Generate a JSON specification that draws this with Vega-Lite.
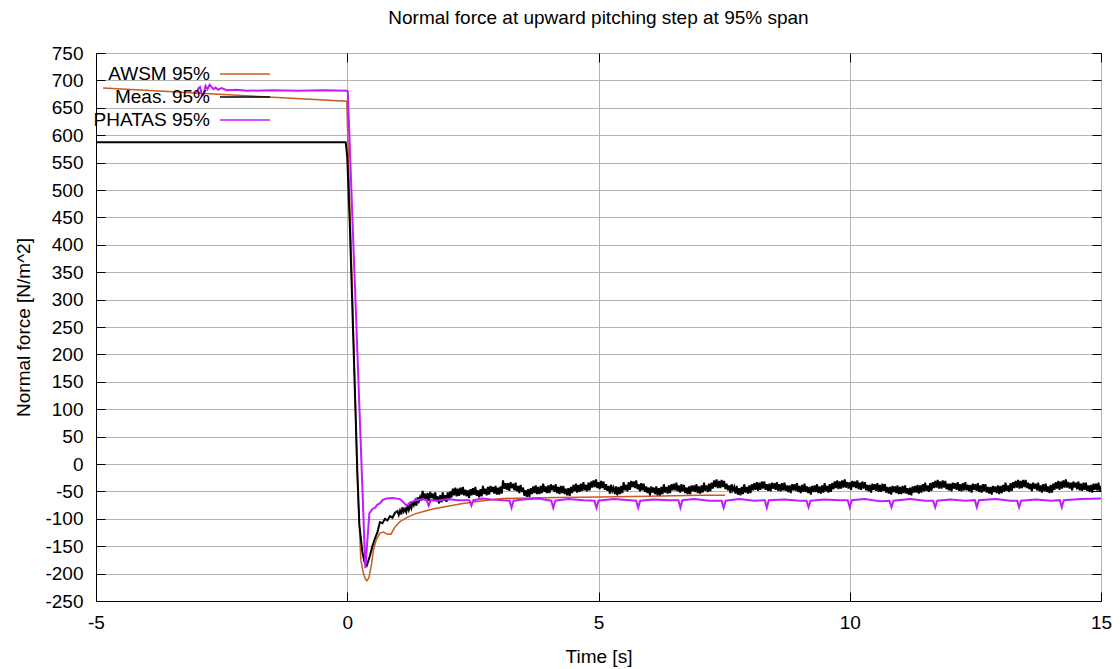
{
  "$schema": "https://vega.github.io/schema/vega-lite/v6.json",
  "width": 1005,
  "height": 548,
  "autosize": {"type": "none"},
  "padding": {"left": 96, "top": 53, "right": 19, "bottom": 68},
  "background": "white",
  "config": {
    "font": "Liberation Sans",
    "view": {"stroke": "black", "strokeWidth": 1},
    "axis": {
      "gridColor": "#b4b4b4", "gridWidth": 1, "gridOpacity": 1,
      "domainColor": "black", "tickColor": "black", "tickSize": -9, "tickWidth": 1,
      "labelFontSize": 19, "labelColor": "black", "labelFont": "Liberation Sans",
      "titleFontSize": 19, "titleFontWeight": "normal", "titleColor": "black", "titleFont": "Liberation Sans"
    },
    "legend": {
      "orient": "none", "legendX": 138, "legendY": 10, "padding": 0,
      "symbolType": "M-2.5,0H2.5", "symbolSize": 400, "symbolStrokeWidth": 1.5,
      "labelAlign": "right", "labelOffset": -46, "rowPadding": 2,
      "labelFontSize": 19, "labelColor": "black", "labelFont": "Liberation Sans", "labelLimit": 0
    }
  },
  "title": {"text": "Normal force at upward pitching step at 95% span", "fontSize": 19, "fontWeight": "normal", "color": "black", "anchor": "middle", "offset": 16, "font": "Liberation Sans"},
  "datasets": {
    "awsm": [
      {"t": -4.86, "v": 686}, {"t": -0.01, "v": 662}, {"t": 0.1, "v": 320}, {"t": 0.2, "v": -25},
      {"t": 0.27, "v": -175}, {"t": 0.32, "v": -199}, {"t": 0.36, "v": -210}, {"t": 0.39, "v": -213},
      {"t": 0.43, "v": -208}, {"t": 0.48, "v": -185}, {"t": 0.52, "v": -157}, {"t": 0.58, "v": -138},
      {"t": 0.65, "v": -126}, {"t": 0.72, "v": -124}, {"t": 0.8, "v": -128}, {"t": 0.87, "v": -128},
      {"t": 0.95, "v": -115}, {"t": 1.05, "v": -105}, {"t": 1.2, "v": -97}, {"t": 1.35, "v": -91},
      {"t": 1.5, "v": -87}, {"t": 1.7, "v": -82}, {"t": 2.0, "v": -77}, {"t": 2.3, "v": -72},
      {"t": 2.7, "v": -67}, {"t": 3.1, "v": -63}, {"t": 3.6, "v": -62}, {"t": 4.2, "v": -61},
      {"t": 5.0, "v": -60}, {"t": 6.0, "v": -59}, {"t": 7.0, "v": -57}, {"t": 7.52, "v": -57}
    ],
    "meas": [
      {"t":-5,"v":587},{"t":-0.03,"v":587},{"t":0.0,"v":560},{"t":0.05,"v":440},
      {"t":0.1,"v":290},{"t":0.15,"v":140},{"t":0.2,"v":-12},{"t":0.24,"v":-110},
      {"t":0.3,"v":-160},{"t":0.34,"v":-178},{"t":0.39,"v":-185},{"t":0.45,"v":-168},
      {"t":0.5,"v":-150},{"t":0.55,"v":-136},{"t":0.6,"v":-125},{"t":0.65,"v":-106},
      {"t":0.7,"v":-108},{"t":0.75,"v":-100},{"t":0.8,"v":-103},{"t":0.85,"v":-95},
      {"t":0.9,"v":-98},{"t":0.95,"v":-89},
      {"t":1.0,"v":-86},{"t":1.025,"v":-93},{"t":1.05,"v":-85},{"t":1.075,"v":-92},
      {"t":1.1,"v":-79},{"t":1.125,"v":-87},{"t":1.15,"v":-82},{"t":1.175,"v":-88},
      {"t":1.2,"v":-76},{"t":1.225,"v":-84},{"t":1.25,"v":-75},{"t":1.275,"v":-81},
      {"t":1.3,"v":-68},{"t":1.325,"v":-75},{"t":1.35,"v":-67},{"t":1.375,"v":-76},
      {"t":1.4,"v":-61},{"t":1.425,"v":-68},{"t":1.45,"v":-60},{"t":1.475,"v":-67},
      {"t":1.5,"v":-49},{"t":1.525,"v":-64},{"t":1.55,"v":-54},{"t":1.575,"v":-66},
      {"t":1.6,"v":-53},{"t":1.625,"v":-67},{"t":1.65,"v":-51},{"t":1.675,"v":-62},
      {"t":1.7,"v":-54},{"t":1.725,"v":-66},{"t":1.75,"v":-52},{"t":1.775,"v":-68},
      {"t":1.8,"v":-59},{"t":1.825,"v":-72},{"t":1.85,"v":-57},{"t":1.875,"v":-70},
      {"t":1.9,"v":-52},{"t":1.925,"v":-67},{"t":1.95,"v":-57},{"t":1.975,"v":-69},
      {"t":2.0,"v":-52},{"t":2.025,"v":-66},{"t":2.05,"v":-50},{"t":2.075,"v":-61},
      {"t":2.1,"v":-45},{"t":2.125,"v":-57},{"t":2.15,"v":-43},{"t":2.175,"v":-59},
      {"t":2.2,"v":-45},{"t":2.225,"v":-58},{"t":2.25,"v":-43},{"t":2.275,"v":-56},
      {"t":2.3,"v":-42},{"t":2.325,"v":-57},{"t":2.35,"v":-47},{"t":2.375,"v":-59},
      {"t":2.4,"v":-48},{"t":2.425,"v":-62},{"t":2.45,"v":-46},{"t":2.475,"v":-57},
      {"t":2.5,"v":-44},{"t":2.525,"v":-56},{"t":2.55,"v":-42},{"t":2.575,"v":-58},
      {"t":2.6,"v":-48},{"t":2.625,"v":-61},{"t":2.65,"v":-46},{"t":2.675,"v":-59},
      {"t":2.7,"v":-40},{"t":2.725,"v":-55},{"t":2.75,"v":-45},{"t":2.775,"v":-57},
      {"t":2.8,"v":-42},{"t":2.825,"v":-56},{"t":2.85,"v":-40},{"t":2.875,"v":-51},
      {"t":2.9,"v":-42},{"t":2.925,"v":-54},{"t":2.95,"v":-40},{"t":2.975,"v":-56},
      {"t":3.0,"v":-43},{"t":3.025,"v":-56},{"t":3.05,"v":-41},{"t":3.075,"v":-54},
      {"t":3.1,"v":-30},{"t":3.125,"v":-45},{"t":3.15,"v":-35},{"t":3.175,"v":-47},
      {"t":3.2,"v":-35},{"t":3.225,"v":-49},{"t":3.25,"v":-33},{"t":3.275,"v":-44},
      {"t":3.3,"v":-36},{"t":3.325,"v":-48},{"t":3.35,"v":-34},{"t":3.375,"v":-50},
      {"t":3.4,"v":-40},{"t":3.425,"v":-53},{"t":3.45,"v":-38},{"t":3.475,"v":-51},
      {"t":3.5,"v":-43},{"t":3.525,"v":-58},{"t":3.55,"v":-48},{"t":3.575,"v":-60},
      {"t":3.6,"v":-46},{"t":3.625,"v":-60},{"t":3.65,"v":-44},{"t":3.675,"v":-55},
      {"t":3.7,"v":-41},{"t":3.725,"v":-53},{"t":3.75,"v":-39},{"t":3.775,"v":-55},
      {"t":3.8,"v":-42},{"t":3.825,"v":-55},{"t":3.85,"v":-40},{"t":3.875,"v":-53},
      {"t":3.9,"v":-36},{"t":3.925,"v":-51},{"t":3.95,"v":-41},{"t":3.975,"v":-53},
      {"t":4.0,"v":-39},{"t":4.025,"v":-53},{"t":4.05,"v":-37},{"t":4.075,"v":-48},
      {"t":4.1,"v":-39},{"t":4.125,"v":-51},{"t":4.15,"v":-37},{"t":4.175,"v":-53},
      {"t":4.2,"v":-42},{"t":4.225,"v":-55},{"t":4.25,"v":-40},{"t":4.275,"v":-53},
      {"t":4.3,"v":-40},{"t":4.325,"v":-55},{"t":4.35,"v":-45},{"t":4.375,"v":-57},
      {"t":4.4,"v":-44},{"t":4.425,"v":-58},{"t":4.45,"v":-42},{"t":4.475,"v":-53},
      {"t":4.5,"v":-38},{"t":4.525,"v":-50},{"t":4.55,"v":-36},{"t":4.575,"v":-52},
      {"t":4.6,"v":-38},{"t":4.625,"v":-51},{"t":4.65,"v":-36},{"t":4.675,"v":-49},
      {"t":4.7,"v":-33},{"t":4.725,"v":-48},{"t":4.75,"v":-38},{"t":4.775,"v":-50},
      {"t":4.8,"v":-34},{"t":4.825,"v":-48},{"t":4.85,"v":-32},{"t":4.875,"v":-43},
      {"t":4.9,"v":-30},{"t":4.925,"v":-42},{"t":4.95,"v":-28},{"t":4.975,"v":-44},
      {"t":5.0,"v":-33},{"t":5.025,"v":-46},{"t":5.05,"v":-31},{"t":5.075,"v":-44},
      {"t":5.1,"v":-32},{"t":5.125,"v":-47},{"t":5.15,"v":-37},{"t":5.175,"v":-49},
      {"t":5.2,"v":-40},{"t":5.225,"v":-54},{"t":5.25,"v":-38},{"t":5.275,"v":-49},
      {"t":5.3,"v":-43},{"t":5.325,"v":-55},{"t":5.35,"v":-41},{"t":5.375,"v":-57},
      {"t":5.4,"v":-42},{"t":5.425,"v":-55},{"t":5.45,"v":-40},{"t":5.475,"v":-53},
      {"t":5.5,"v":-33},{"t":5.525,"v":-48},{"t":5.55,"v":-38},{"t":5.575,"v":-50},
      {"t":5.6,"v":-33},{"t":5.625,"v":-47},{"t":5.65,"v":-31},{"t":5.675,"v":-42},
      {"t":5.7,"v":-32},{"t":5.725,"v":-44},{"t":5.75,"v":-30},{"t":5.775,"v":-46},
      {"t":5.8,"v":-37},{"t":5.825,"v":-50},{"t":5.85,"v":-35},{"t":5.875,"v":-48},
      {"t":5.9,"v":-36},{"t":5.925,"v":-51},{"t":5.95,"v":-41},{"t":5.975,"v":-53},
      {"t":6.0,"v":-43},{"t":6.025,"v":-57},{"t":6.05,"v":-41},{"t":6.075,"v":-52},
      {"t":6.1,"v":-43},{"t":6.125,"v":-55},{"t":6.15,"v":-41},{"t":6.175,"v":-57},
      {"t":6.2,"v":-44},{"t":6.225,"v":-57},{"t":6.25,"v":-42},{"t":6.275,"v":-55},
      {"t":6.3,"v":-37},{"t":6.325,"v":-52},{"t":6.35,"v":-42},{"t":6.375,"v":-54},
      {"t":6.4,"v":-39},{"t":6.425,"v":-53},{"t":6.45,"v":-37},{"t":6.475,"v":-48},
      {"t":6.5,"v":-36},{"t":6.525,"v":-48},{"t":6.55,"v":-34},{"t":6.575,"v":-50},
      {"t":6.6,"v":-39},{"t":6.625,"v":-52},{"t":6.65,"v":-37},{"t":6.675,"v":-50},
      {"t":6.7,"v":-38},{"t":6.725,"v":-53},{"t":6.75,"v":-43},{"t":6.775,"v":-55},
      {"t":6.8,"v":-41},{"t":6.825,"v":-55},{"t":6.85,"v":-39},{"t":6.875,"v":-50},
      {"t":6.9,"v":-39},{"t":6.925,"v":-51},{"t":6.95,"v":-37},{"t":6.975,"v":-53},
      {"t":7.0,"v":-41},{"t":7.025,"v":-54},{"t":7.05,"v":-39},{"t":7.075,"v":-52},
      {"t":7.1,"v":-34},{"t":7.125,"v":-49},{"t":7.15,"v":-39},{"t":7.175,"v":-51},
      {"t":7.2,"v":-36},{"t":7.225,"v":-50},{"t":7.25,"v":-34},{"t":7.275,"v":-45},
      {"t":7.3,"v":-30},{"t":7.325,"v":-42},{"t":7.35,"v":-28},{"t":7.375,"v":-44},
      {"t":7.4,"v":-31},{"t":7.425,"v":-44},{"t":7.45,"v":-29},{"t":7.475,"v":-42},
      {"t":7.5,"v":-31},{"t":7.525,"v":-46},{"t":7.55,"v":-36},{"t":7.575,"v":-48},
      {"t":7.6,"v":-39},{"t":7.625,"v":-53},{"t":7.65,"v":-37},{"t":7.675,"v":-48},
      {"t":7.7,"v":-42},{"t":7.725,"v":-54},{"t":7.75,"v":-40},{"t":7.775,"v":-56},
      {"t":7.8,"v":-44},{"t":7.825,"v":-57},{"t":7.85,"v":-42},{"t":7.875,"v":-55},
      {"t":7.9,"v":-37},{"t":7.925,"v":-52},{"t":7.95,"v":-42},{"t":7.975,"v":-54},
      {"t":8.0,"v":-39},{"t":8.025,"v":-53},{"t":8.05,"v":-37},{"t":8.075,"v":-48},
      {"t":8.1,"v":-35},{"t":8.125,"v":-47},{"t":8.15,"v":-33},{"t":8.175,"v":-49},
      {"t":8.2,"v":-34},{"t":8.225,"v":-47},{"t":8.25,"v":-32},{"t":8.275,"v":-45},
      {"t":8.3,"v":-32},{"t":8.325,"v":-47},{"t":8.35,"v":-37},{"t":8.375,"v":-49},
      {"t":8.4,"v":-36},{"t":8.425,"v":-50},{"t":8.45,"v":-34},{"t":8.475,"v":-45},
      {"t":8.5,"v":-35},{"t":8.525,"v":-47},{"t":8.55,"v":-33},{"t":8.575,"v":-49},
      {"t":8.6,"v":-37},{"t":8.625,"v":-50},{"t":8.65,"v":-35},{"t":8.675,"v":-48},
      {"t":8.7,"v":-34},{"t":8.725,"v":-49},{"t":8.75,"v":-39},{"t":8.775,"v":-51},
      {"t":8.8,"v":-39},{"t":8.825,"v":-53},{"t":8.85,"v":-37},{"t":8.875,"v":-48},
      {"t":8.9,"v":-37},{"t":8.925,"v":-49},{"t":8.95,"v":-35},{"t":8.975,"v":-51},
      {"t":9.0,"v":-40},{"t":9.025,"v":-53},{"t":9.05,"v":-38},{"t":9.075,"v":-51},
      {"t":9.1,"v":-36},{"t":9.125,"v":-51},{"t":9.15,"v":-41},{"t":9.175,"v":-53},
      {"t":9.2,"v":-42},{"t":9.225,"v":-56},{"t":9.25,"v":-40},{"t":9.275,"v":-51},
      {"t":9.3,"v":-39},{"t":9.325,"v":-51},{"t":9.35,"v":-37},{"t":9.375,"v":-53},
      {"t":9.4,"v":-41},{"t":9.425,"v":-54},{"t":9.45,"v":-39},{"t":9.475,"v":-52},
      {"t":9.5,"v":-35},{"t":9.525,"v":-50},{"t":9.55,"v":-40},{"t":9.575,"v":-52},
      {"t":9.6,"v":-37},{"t":9.625,"v":-51},{"t":9.65,"v":-35},{"t":9.675,"v":-46},
      {"t":9.7,"v":-32},{"t":9.725,"v":-44},{"t":9.75,"v":-30},{"t":9.775,"v":-46},
      {"t":9.8,"v":-32},{"t":9.825,"v":-45},{"t":9.85,"v":-30},{"t":9.875,"v":-43},
      {"t":9.9,"v":-28},{"t":9.925,"v":-43},{"t":9.95,"v":-33},{"t":9.975,"v":-45},
      {"t":10.0,"v":-33},{"t":10.025,"v":-47},{"t":10.05,"v":-31},{"t":10.075,"v":-42},
      {"t":10.1,"v":-32},{"t":10.125,"v":-44},{"t":10.15,"v":-30},{"t":10.175,"v":-46},
      {"t":10.2,"v":-34},{"t":10.225,"v":-47},{"t":10.25,"v":-32},{"t":10.275,"v":-45},
      {"t":10.3,"v":-33},{"t":10.325,"v":-48},{"t":10.35,"v":-38},{"t":10.375,"v":-50},
      {"t":10.4,"v":-38},{"t":10.425,"v":-52},{"t":10.45,"v":-36},{"t":10.475,"v":-47},
      {"t":10.5,"v":-37},{"t":10.525,"v":-49},{"t":10.55,"v":-35},{"t":10.575,"v":-51},
      {"t":10.6,"v":-38},{"t":10.625,"v":-51},{"t":10.65,"v":-36},{"t":10.675,"v":-49},
      {"t":10.7,"v":-37},{"t":10.725,"v":-52},{"t":10.75,"v":-42},{"t":10.775,"v":-54},
      {"t":10.8,"v":-42},{"t":10.825,"v":-56},{"t":10.85,"v":-40},{"t":10.875,"v":-51},
      {"t":10.9,"v":-41},{"t":10.925,"v":-53},{"t":10.95,"v":-39},{"t":10.975,"v":-55},
      {"t":11.0,"v":-42},{"t":11.025,"v":-55},{"t":11.05,"v":-40},{"t":11.075,"v":-53},
      {"t":11.1,"v":-39},{"t":11.125,"v":-54},{"t":11.15,"v":-44},{"t":11.175,"v":-56},
      {"t":11.2,"v":-43},{"t":11.225,"v":-57},{"t":11.25,"v":-41},{"t":11.275,"v":-52},
      {"t":11.3,"v":-40},{"t":11.325,"v":-52},{"t":11.35,"v":-38},{"t":11.375,"v":-54},
      {"t":11.4,"v":-39},{"t":11.425,"v":-52},{"t":11.45,"v":-37},{"t":11.475,"v":-50},
      {"t":11.5,"v":-34},{"t":11.525,"v":-49},{"t":11.55,"v":-39},{"t":11.575,"v":-51},
      {"t":11.6,"v":-35},{"t":11.625,"v":-49},{"t":11.65,"v":-33},{"t":11.675,"v":-44},
      {"t":11.7,"v":-31},{"t":11.725,"v":-43},{"t":11.75,"v":-29},{"t":11.775,"v":-45},
      {"t":11.8,"v":-32},{"t":11.825,"v":-45},{"t":11.85,"v":-30},{"t":11.875,"v":-43},
      {"t":11.9,"v":-31},{"t":11.925,"v":-46},{"t":11.95,"v":-36},{"t":11.975,"v":-48},
      {"t":12.0,"v":-36},{"t":12.025,"v":-50},{"t":12.05,"v":-34},{"t":12.075,"v":-45},
      {"t":12.1,"v":-35},{"t":12.125,"v":-47},{"t":12.15,"v":-33},{"t":12.175,"v":-49},
      {"t":12.2,"v":-37},{"t":12.225,"v":-50},{"t":12.25,"v":-35},{"t":12.275,"v":-48},
      {"t":12.3,"v":-33},{"t":12.325,"v":-48},{"t":12.35,"v":-38},{"t":12.375,"v":-50},
      {"t":12.4,"v":-38},{"t":12.425,"v":-52},{"t":12.45,"v":-36},{"t":12.475,"v":-47},
      {"t":12.5,"v":-37},{"t":12.525,"v":-49},{"t":12.55,"v":-35},{"t":12.575,"v":-51},
      {"t":12.6,"v":-39},{"t":12.625,"v":-52},{"t":12.65,"v":-37},{"t":12.675,"v":-50},
      {"t":12.7,"v":-37},{"t":12.725,"v":-52},{"t":12.75,"v":-42},{"t":12.775,"v":-54},
      {"t":12.8,"v":-42},{"t":12.825,"v":-56},{"t":12.85,"v":-40},{"t":12.875,"v":-51},
      {"t":12.9,"v":-41},{"t":12.925,"v":-53},{"t":12.95,"v":-39},{"t":12.975,"v":-55},
      {"t":13.0,"v":-40},{"t":13.025,"v":-53},{"t":13.05,"v":-38},{"t":13.075,"v":-51},
      {"t":13.1,"v":-34},{"t":13.125,"v":-49},{"t":13.15,"v":-39},{"t":13.175,"v":-51},
      {"t":13.2,"v":-35},{"t":13.225,"v":-49},{"t":13.25,"v":-33},{"t":13.275,"v":-44},
      {"t":13.3,"v":-31},{"t":13.325,"v":-43},{"t":13.35,"v":-29},{"t":13.375,"v":-45},
      {"t":13.4,"v":-31},{"t":13.425,"v":-44},{"t":13.45,"v":-29},{"t":13.475,"v":-42},
      {"t":13.5,"v":-29},{"t":13.525,"v":-44},{"t":13.55,"v":-34},{"t":13.575,"v":-46},
      {"t":13.6,"v":-36},{"t":13.625,"v":-50},{"t":13.65,"v":-34},{"t":13.675,"v":-45},
      {"t":13.7,"v":-36},{"t":13.725,"v":-48},{"t":13.75,"v":-34},{"t":13.775,"v":-50},
      {"t":13.8,"v":-39},{"t":13.825,"v":-52},{"t":13.85,"v":-37},{"t":13.875,"v":-50},
      {"t":13.9,"v":-36},{"t":13.925,"v":-51},{"t":13.95,"v":-41},{"t":13.975,"v":-53},
      {"t":14.0,"v":-38},{"t":14.025,"v":-52},{"t":14.05,"v":-36},{"t":14.075,"v":-47},
      {"t":14.1,"v":-33},{"t":14.125,"v":-45},{"t":14.15,"v":-31},{"t":14.175,"v":-47},
      {"t":14.2,"v":-32},{"t":14.225,"v":-45},{"t":14.25,"v":-30},{"t":14.275,"v":-43},
      {"t":14.3,"v":-28},{"t":14.325,"v":-43},{"t":14.35,"v":-33},{"t":14.375,"v":-45},
      {"t":14.4,"v":-34},{"t":14.425,"v":-48},{"t":14.45,"v":-32},{"t":14.475,"v":-43},
      {"t":14.5,"v":-34},{"t":14.525,"v":-46},{"t":14.55,"v":-32},{"t":14.575,"v":-48},
      {"t":14.6,"v":-36},{"t":14.625,"v":-49},{"t":14.65,"v":-34},{"t":14.675,"v":-47},
      {"t":14.7,"v":-34},{"t":14.725,"v":-49},{"t":14.75,"v":-39},{"t":14.775,"v":-51},
      {"t":14.8,"v":-38},{"t":14.825,"v":-52},{"t":14.85,"v":-36},{"t":14.875,"v":-47},
      {"t":14.9,"v":-36},{"t":14.925,"v":-48},{"t":14.95,"v":-34},{"t":14.975,"v":-50},
      {"t":15.0,"v":-40}
    ],
    "phatas": [
      {"t": -3.01, "v": 676}, {"t": -2.96, "v": 686}, {"t": -2.93, "v": 688}, {"t": -2.89, "v": 672},
      {"t": -2.86, "v": 674}, {"t": -2.82, "v": 690}, {"t": -2.78, "v": 684}, {"t": -2.74, "v": 692},
      {"t": -2.7, "v": 688}, {"t": -2.66, "v": 684}, {"t": -2.62, "v": 687}, {"t": -2.57, "v": 683},
      {"t": -2.5, "v": 686}, {"t": -2.4, "v": 682}, {"t": -2.2, "v": 683}, {"t": -2.0, "v": 681},
      {"t": -1.5, "v": 682}, {"t": -1.0, "v": 681}, {"t": -0.5, "v": 682}, {"t": 0.0, "v": 681},
      {"t": 0.01, "v": 680}, {"t": 0.36, "v": -190}, {"t": 0.4, "v": -140}, {"t": 0.44, "v": -90},
      {"t": 0.5, "v": -82}, {"t": 0.55, "v": -80}, {"t": 0.6, "v": -74}, {"t": 0.65, "v": -72},
      {"t": 0.7, "v": -66}, {"t": 0.78, "v": -63}, {"t": 0.9, "v": -62}, {"t": 1.05, "v": -64},
      {"t": 1.12, "v": -70}, {"t": 1.18, "v": -76}, {"t": 1.25, "v": -70}, {"t": 1.38, "v": -66},
      {"t": 1.5, "v": -64}, {"t": 1.58, "v": -66}, {"t": 1.62, "v": -76}, {"t": 1.66, "v": -66},
      {"t": 1.8, "v": -67}, {"t": 2.0, "v": -64}, {"t": 2.2, "v": -66}, {"t": 2.43, "v": -66},
      {"t": 2.47, "v": -76}, {"t": 2.51, "v": -66}, {"t": 2.7, "v": -63}, {"t": 2.9, "v": -65},
      {"t": 3.1, "v": -66}, {"t": 3.23, "v": -67}, {"t": 3.27, "v": -80}, {"t": 3.31, "v": -67},
      {"t": 3.5, "v": -65}, {"t": 3.8, "v": -63}, {"t": 4.06, "v": -67}, {"t": 4.1, "v": -80},
      {"t": 4.14, "v": -67}, {"t": 4.4, "v": -64}, {"t": 4.7, "v": -66}, {"t": 4.92, "v": -67},
      {"t": 4.96, "v": -80}, {"t": 5.0, "v": -67}, {"t": 5.3, "v": -64}, {"t": 5.75, "v": -67},
      {"t": 5.79, "v": -80}, {"t": 5.83, "v": -67}, {"t": 6.1, "v": -65}, {"t": 6.4, "v": -66},
      {"t": 6.59, "v": -66}, {"t": 6.63, "v": -80}, {"t": 6.67, "v": -66}, {"t": 6.9, "v": -64},
      {"t": 7.2, "v": -67}, {"t": 7.45, "v": -67}, {"t": 7.49, "v": -80}, {"t": 7.53, "v": -67},
      {"t": 7.8, "v": -64}, {"t": 8.1, "v": -67}, {"t": 8.31, "v": -66}, {"t": 8.35, "v": -80},
      {"t": 8.39, "v": -66}, {"t": 8.7, "v": -65}, {"t": 9.0, "v": -67}, {"t": 9.14, "v": -67},
      {"t": 9.18, "v": -79}, {"t": 9.22, "v": -67}, {"t": 9.5, "v": -65}, {"t": 9.8, "v": -66},
      {"t": 9.96, "v": -66}, {"t": 10.0, "v": -79}, {"t": 10.04, "v": -66}, {"t": 10.3, "v": -64},
      {"t": 10.6, "v": -68}, {"t": 10.79, "v": -67}, {"t": 10.83, "v": -79}, {"t": 10.87, "v": -67},
      {"t": 11.2, "v": -64}, {"t": 11.5, "v": -67}, {"t": 11.66, "v": -67}, {"t": 11.7, "v": -79},
      {"t": 11.74, "v": -67}, {"t": 12.0, "v": -65}, {"t": 12.3, "v": -67}, {"t": 12.49, "v": -66},
      {"t": 12.53, "v": -79}, {"t": 12.57, "v": -66}, {"t": 12.9, "v": -64}, {"t": 13.2, "v": -67},
      {"t": 13.33, "v": -67}, {"t": 13.37, "v": -79}, {"t": 13.41, "v": -67}, {"t": 13.7, "v": -65},
      {"t": 14.0, "v": -67}, {"t": 14.18, "v": -66}, {"t": 14.22, "v": -79}, {"t": 14.26, "v": -66},
      {"t": 14.6, "v": -64}, {"t": 15.0, "v": -63}
    ]
  },
  "resolve": {"axis": {"x": "independent", "y": "independent"}},
  "layer": [
    {
      "data": {"name": "awsm"},
      "mark": {"type": "line", "strokeWidth": 1.5, "clip": true},
      "encoding": {
        "x": {"field": "t", "type": "quantitative", "scale": {"domain": [-5, 15], "nice": false, "zero": false},
              "axis": {"orient": "bottom", "values": [-5, 0, 5, 10, 15], "title": "Time [s]", "labelPadding": 21, "labelExpr": "'' + datum.value", "labelFlush": false, "titleY": 61, "titleBaseline": "alphabetic"}},
        "y": {"field": "v", "type": "quantitative", "scale": {"domain": [-250, 750], "nice": false, "zero": false},
              "axis": {"orient": "left", "values": [-250, -200, -150, -100, -50, 0, 50, 100, 150, 200, 250, 300, 350, 400, 450, 500, 550, 600, 650, 700, 750], "title": "Normal force [N/m^2]", "labelPadding": 22, "labelExpr": "'' + datum.value", "labelFlush": false, "titleX": -67, "titleY": 274, "titleAlign": "center", "titleBaseline": "alphabetic", "titleAngle": -90}},
        "color": {"datum": "AWSM 95%", "type": "nominal", "scale": {"domain": ["AWSM 95%", "Meas. 95%", "PHATAS 95%"], "range": ["#cc5a1e", "#000000", "#c01cff"]}, "legend": {"title": null}}
      }
    },
    {
      "data": {"name": "meas"},
      "mark": {"type": "line", "strokeWidth": 2, "clip": true},
      "encoding": {
        "x": {"field": "t", "type": "quantitative", "axis": null},
        "y": {"field": "v", "type": "quantitative", "axis": null},
        "color": {"datum": "Meas. 95%", "type": "nominal"}
      }
    },
    {
      "data": {"name": "phatas"},
      "mark": {"type": "line", "strokeWidth": 2, "clip": true},
      "encoding": {
        "x": {"field": "t", "type": "quantitative", "axis": null},
        "y": {"field": "v", "type": "quantitative", "axis": null},
        "color": {"datum": "PHATAS 95%", "type": "nominal"}
      }
    },
    {
      "data": {"name": "phatas"},
      "mark": {"type": "line", "strokeOpacity": 0, "clip": true},
      "encoding": {
        "x": {"field": "t", "type": "quantitative",
              "axis": {"orient": "top", "values": [-5, 0, 5, 10, 15], "labels": false, "grid": false, "domain": false, "title": null}},
        "y": {"field": "v", "type": "quantitative",
              "axis": {"orient": "right", "values": [-250, -200, -150, -100, -50, 0, 50, 100, 150, 200, 250, 300, 350, 400, 450, 500, 550, 600, 650, 700, 750], "labels": false, "grid": false, "domain": false, "title": null}}
      }
    }
  ]
}
